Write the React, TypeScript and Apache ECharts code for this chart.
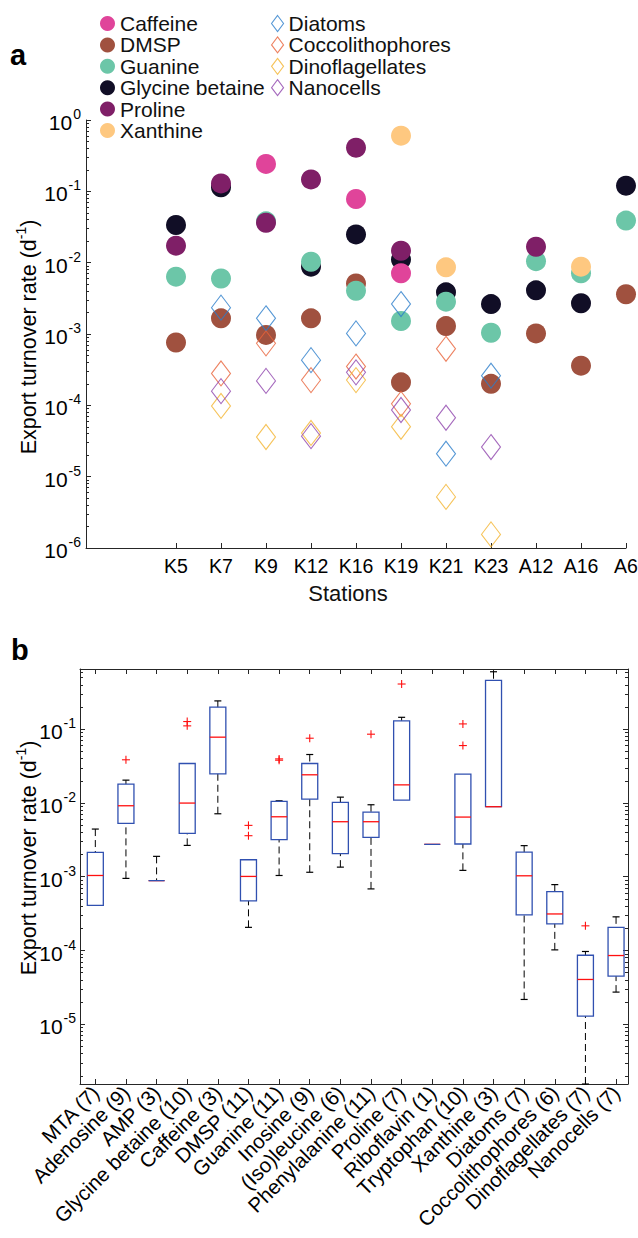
import React, { useEffect, useRef } from 'react';
import * as echarts from 'echarts';

// ---------- Panel a data ----------
const stations = ['K5', 'K7', 'K9', 'K12', 'K16', 'K19', 'K21', 'K23', 'A12', 'A16', 'A6'];
const caffeine = [null, null, 0.242, null, 0.078, 0.0071, null, null, null, null, null];
const dmsp = [7.6e-4, 1.66e-3, 9.7e-4, 1.66e-3, 5.1e-3, 2.1e-4, 1.29e-3, 2.0e-4, 1.02e-3, 3.6e-4, 3.61e-3];
const guanine = [6.36e-3, 6.0e-3, 0.038, 0.0103, 4.04e-3, 1.52e-3, 2.84e-3, 1.04e-3, 0.0105, 7.1e-3, 0.0389];
const glycineBetaine = [0.0337, 0.114, null, 8.8e-3, 0.0249, 0.0111, 3.84e-3, 2.63e-3, 4.1e-3, 2.7e-3, 0.12];
const proline = [0.0173, 0.129, 0.0363, 0.147, 0.409, 0.0147, null, null, 0.0167, null, null];
const xanthine = [null, null, null, null, null, 0.603, 8.6e-3, null, null, 8.8e-3, null];
const diatoms = [null, 2.34e-3, 1.66e-3, 4.3e-4, 1.02e-3, 2.63e-3, 2.1e-5, 2.6e-4, null, null, null];
const coccolithophores = [null, 2.8e-4, 7.4e-4, 2.26e-4, 3.5e-4, 1.05e-4, 6.2e-4, null, null, null, null];
const dinoflagellates = [null, 9.8e-5, 3.6e-5, 4.1e-5, 2.26e-4, 5.0e-5, 5.2e-6, 1.55e-6, null, null, null];
const nanocells = [null, 1.58e-4, 2.2e-4, 3.7e-5, 2.9e-4, 8.6e-5, 6.7e-5, 2.6e-5, null, null, null];

// ---------- Panel b data ----------
const boxNames = ['MTA', 'Adenosine', 'AMP', 'Glycine betaine', 'Caffeine', 'DMSP', 'Guanine', 'Inosine',
  '(Iso)leucine', 'Phenylalanine', 'Proline', 'Riboflavin', 'Tryptophan', 'Xanthine', 'Diatoms',
  'Coccolithophores', 'Dinoflagellates', 'Nanocells'];
const boxCounts = [7, 9, 3, 10, 3, 11, 11, 9, 6, 11, 7, 1, 10, 3, 7, 6, 7, 7];
const boxMin = [4.1e-4, 9.5e-4, 8.85e-4, 2.66e-3, 7.14e-3, 2.06e-4, 1.04e-3, 1.15e-3, 1.35e-3, 6.84e-4, 0.0109, 2.75e-3, 1.22e-3, 8.9e-3, 2.17e-5, 1.02e-4, 1.55e-6, 2.73e-5];
const boxQ1 = [4.1e-4, 5.28e-3, 8.85e-4, 3.87e-3, 0.0248, 4.7e-4, 3.18e-3, 0.0113, 2.06e-3, 3.41e-3, 0.0109, 2.75e-3, 2.78e-3, 8.9e-3, 3.04e-4, 2.3e-4, 1.29e-5, 4.49e-5];
const boxMedian = [1.04e-3, 9.17e-3, 8.85e-4, 9.97e-3, 0.078, 1.01e-3, 6.5e-3, 0.0241, 5.57e-3, 5.57e-3, 0.0176, 2.75e-3, 6.44e-3, 8.9e-3, 1.03e-3, 3.13e-4, 4.05e-5, 8.55e-5];
const boxQ3 = [2.14e-3, 0.018, 8.85e-4, 0.0343, 0.199, 1.7e-3, 0.0105, 0.0343, 0.0102, 7.5e-3, 0.13, 2.75e-3, 0.0246, 0.46, 2.16e-3, 6.28e-4, 8.63e-5, 2.06e-4];
const boxMax = [4.43e-3, 0.0204, 1.89e-3, 0.0343, 0.242, 1.7e-3, 0.0107, 0.0454, 0.012, 9.46e-3, 0.145, 2.75e-3, 0.0246, 0.601, 2.64e-3, 7.82e-4, 9.7e-5, 2.86e-4];
const boxOutliers = [[], [0.0385], [], [0.127, 0.111], [], [4.97e-3, 3.6e-3], [0.0396, 0.038], [0.0755], [], [0.0856], [0.41], [], [0.118, 0.06], [], [], [], [2.16e-4], []];

// ---------- styling ----------
const FONT = '"Liberation Sans", Arial, Helvetica, sans-serif';
const AX = '#262626';
const BOX_BLUE = '#3050B0';
const A_YMIN = 1e-6;
const A_YMAX = 1;
const B_YMIN = 1.55e-6;
const B_YMAX = 0.655;

const circleDefs = [
  { name: 'Glycine betaine', values: glycineBetaine, color: '#110E26' },
  { name: 'Caffeine', values: caffeine, color: '#E0449A' },
  { name: 'DMSP', values: dmsp, color: '#A0513F' },
  { name: 'Guanine', values: guanine, color: '#6CC6A8' },
  { name: 'Proline', values: proline, color: '#7F1F67' },
  { name: 'Xanthine', values: xanthine, color: '#FEC880' },
];
const diamondDefs = [
  { name: 'Diatoms', values: diatoms, color: '#2B7DCA' },
  { name: 'Coccolithophores', values: coccolithophores, color: '#E8633A' },
  { name: 'Dinoflagellates', values: dinoflagellates, color: '#F4B430' },
  { name: 'Nanocells', values: nanocells, color: '#8E44AD' },
];
const circleLegendOrder = ['Caffeine', 'DMSP', 'Guanine', 'Glycine betaine', 'Proline', 'Xanthine'];

function minorTicks(lo: number, hi: number) {
  const out: number[] = [];
  for (let n = lo; n < hi; n++) for (let k = 2; k <= 9; k++) out.push(n + Math.log10(k));
  return out;
}
function range(a: number, b: number) {
  const out: number[] = [];
  for (let i = a; i <= b; i++) out.push(i);
  return out;
}
function powLabel(v: number) {
  const e = Math.log10(v);
  const r = Math.round(e);
  if (Math.abs(e - r) > 1e-6) return '';
  return `{b|10}{s|${r}}`;
}
const powRich = {
  b: { fontSize: 21, color: '#000', fontFamily: FONT, lineHeight: 26, verticalAlign: 'bottom' },
  s: { fontSize: 14, color: '#000', fontFamily: FONT, lineHeight: 26, verticalAlign: 'top', padding: [0, 0, 0, 1] },
};

const lineStyle = { color: AX, width: 1 };

function toPoints(values: (number | null)[]) {
  const pts: number[][] = [];
  values.forEach((v, i) => { if (v != null) pts.push([i + 1, v]); });
  return pts;
}

function buildOption() {
  const series: any[] = [];
  circleDefs.forEach((d) => {
    series.push({
      name: d.name, type: 'scatter', xAxisIndex: 0, yAxisIndex: 0,
      symbol: 'circle', symbolSize: 20, data: toPoints(d.values),
      itemStyle: { color: d.color, opacity: 1 }, emphasis: { disabled: true }, silent: true,
    });
  });
  diamondDefs.forEach((d) => {
    series.push({
      name: d.name, type: 'scatter', xAxisIndex: 0, yAxisIndex: 0,
      symbol: 'diamond', symbolSize: [19, 25], data: toPoints(d.values),
      itemStyle: { color: 'transparent', borderColor: d.color, borderWidth: 1.1 },
      emphasis: { disabled: true }, silent: true,
    });
  });

  const boxData = boxNames.map((_, i) => [i + 1, boxMin[i], boxQ1[i], boxMedian[i], boxQ3[i], boxMax[i]]);
  series.push({
    name: 'box', type: 'custom', xAxisIndex: 1, yAxisIndex: 2, clip: false, silent: true,
    encode: { x: 0, y: [1, 2, 3, 4, 5] },
    data: boxData,
    renderItem: (params: any, api: any) => {
      const x = api.value(0);
      const c = (d: number) => api.coord([x, api.value(d)]);
      const px = c(1)[0];
      const yMin = c(1)[1];
      const yQ1 = c(2)[1];
      const yMed = c(3)[1];
      const yQ3 = c(4)[1];
      const yMax = c(5)[1];
      const hw = 8;
      const cw = 3.5;
      const children: any[] = [];
      const dash = { stroke: '#000', lineWidth: 1, lineDash: [7, 4], fill: null };
      const solid = { stroke: '#000', lineWidth: 1.2, fill: null };
      if (yMax < yQ3 - 0.5) {
        children.push({ type: 'line', shape: { x1: px, y1: yMax, x2: px, y2: yQ3 }, style: dash });
        children.push({ type: 'line', shape: { x1: px - cw, y1: yMax, x2: px + cw, y2: yMax }, style: solid });
      }
      if (yMin > yQ1 + 0.5) {
        children.push({ type: 'line', shape: { x1: px, y1: yMin, x2: px, y2: yQ1 }, style: dash });
        children.push({ type: 'line', shape: { x1: px - cw, y1: yMin, x2: px + cw, y2: yMin }, style: solid });
      }
      const flat = yQ1 - yQ3 < 0.5;
      const rect = {
        type: 'rect', shape: { x: px - hw, y: yQ3, width: 2 * hw, height: Math.max(yQ1 - yQ3, 0) },
        style: { fill: 'none', stroke: BOX_BLUE, lineWidth: 1.3 },
      };
      const med = {
        type: 'line', shape: { x1: px - hw, y1: yMed, x2: px + hw, y2: yMed },
        style: { stroke: '#FF1010', lineWidth: 1.3 },
      };
      if (flat) { children.push(med, rect); } else { children.push(rect, med); }
      return { type: 'group', children };
    },
  });

  const outData: number[][] = [];
  boxOutliers.forEach((arr, i) => arr.forEach((v) => outData.push([i + 1, v])));
  series.push({
    name: 'outliers', type: 'custom', xAxisIndex: 1, yAxisIndex: 2, clip: false, silent: true,
    encode: { x: 0, y: 1 },
    data: outData,
    renderItem: (params: any, api: any) => {
      const p = api.coord([api.value(0), api.value(1)]);
      const s = 4;
      const st = { stroke: '#FF1010', lineWidth: 1.1 };
      return {
        type: 'group', children: [
          { type: 'line', shape: { x1: p[0] - s, y1: p[1], x2: p[0] + s, y2: p[1] }, style: st },
          { type: 'line', shape: { x1: p[0], y1: p[1] - s, x2: p[0], y2: p[1] + s }, style: st },
        ],
      };
    },
  });

  const stationTicks = range(1, stations.length);
  const boxTicks = range(1, boxNames.length);

  const option: any = {
    animation: false,
    textStyle: { fontFamily: FONT },
    grid: [
      { left: 86, top: 120, width: 540, height: 428, outerBoundsMode: 'none', containLabel: false },
      { left: 80, top: 669, width: 548, height: 415, outerBoundsMode: 'none', containLabel: false },
    ],
    legend: [
      {
        orient: 'vertical', left: 100, top: 13, padding: 0, itemGap: 0.4, itemWidth: 15, itemHeight: 15,
        itemTextGap: 3, icon: 'circle', selectedMode: false,
        textStyle: { fontSize: 21, lineHeight: 20, color: '#111', fontFamily: FONT },
        data: circleLegendOrder,
      },
      {
        orient: 'vertical', left: 271, top: 13, padding: 0, itemGap: 0.4, itemWidth: 12, itemHeight: 16,
        itemTextGap: 7, icon: 'diamond', selectedMode: false,
        textStyle: { fontSize: 21, lineHeight: 20, color: '#111', fontFamily: FONT },
        data: diamondDefs.map((d) => ({
          name: d.name,
          itemStyle: { color: 'transparent', borderColor: d.color, borderWidth: 1.1 },
        })),
      },
    ],
    xAxis: [
      {
        gridIndex: 0, type: 'value', min: -1, max: 11, position: 'bottom',
        axisLine: { show: true, onZero: false, lineStyle },
        axisTick: { show: true, inside: true, length: 5, customValues: stationTicks, lineStyle },
        axisLabel: {
          customValues: stationTicks, fontSize: 19.5, color: '#000', margin: 8, fontFamily: FONT,
          formatter: (v: number) => stations[Math.round(v) - 1] ?? '',
        },
        splitLine: { show: false },
      },
      {
        gridIndex: 1, type: 'value', min: 0.5, max: 18.39, position: 'bottom',
        axisLine: { show: true, onZero: false, lineStyle },
        axisTick: { show: true, inside: true, length: 5, customValues: boxTicks, lineStyle },
        axisLabel: {
          customValues: boxTicks, fontSize: 20.5, color: '#000', margin: 5, rotate: 45, fontFamily: FONT,
          formatter: (v: number) => {
            const i = Math.round(v) - 1;
            return boxNames[i] != null ? `${boxNames[i]} (${boxCounts[i]})` : '';
          },
        },
        splitLine: { show: false },
      },
      {
        gridIndex: 1, type: 'value', min: 0.5, max: 18.39, position: 'top',
        axisLine: { show: true, onZero: false, lineStyle },
        axisTick: { show: true, inside: true, length: 5, customValues: boxTicks, lineStyle },
        axisLabel: { show: false },
        splitLine: { show: false },
      },
    ],
    yAxis: [
      {
        gridIndex: 0, type: 'log', logBase: 10, min: A_YMIN, max: A_YMAX, position: 'left',
        axisLine: { show: true, onZero: false, lineStyle },
        axisTick: { show: true, inside: true, length: 5, lineStyle },
        axisLabel: { formatter: powLabel, rich: powRich, margin: 5 },
        splitLine: { show: false },
      },
      {
        gridIndex: 0, type: 'value', min: -6, max: 0, position: 'left',
        axisLine: { show: false, onZero: false },
        axisTick: { show: true, inside: true, length: 3, customValues: minorTicks(-6, 0), lineStyle },
        axisLabel: { show: false },
        splitLine: { show: false },
      },
      {
        gridIndex: 1, type: 'log', logBase: 10, min: B_YMIN, max: B_YMAX, position: 'left',
        axisLine: { show: true, onZero: false, lineStyle },
        axisTick: { show: true, inside: true, length: 5, lineStyle },
        axisLabel: { formatter: powLabel, rich: powRich, margin: 4 },
        splitLine: { show: false },
      },
      {
        gridIndex: 1, type: 'log', logBase: 10, min: B_YMIN, max: B_YMAX, position: 'right',
        axisLine: { show: true, onZero: false, lineStyle },
        axisTick: { show: true, inside: true, length: 5, lineStyle },
        axisLabel: { show: false },
        splitLine: { show: false },
      },
      {
        gridIndex: 1, type: 'value', min: Math.log10(B_YMIN), max: Math.log10(B_YMAX), position: 'left',
        axisLine: { show: false, onZero: false },
        axisTick: { show: true, inside: true, length: 3, customValues: minorTicks(-6, 0), lineStyle },
        axisLabel: { show: false },
        splitLine: { show: false },
      },
      {
        gridIndex: 1, type: 'value', min: Math.log10(B_YMIN), max: Math.log10(B_YMAX), position: 'right',
        axisLine: { show: false, onZero: false },
        axisTick: { show: true, inside: true, length: 3, customValues: minorTicks(-6, 0), lineStyle },
        axisLabel: { show: false },
        splitLine: { show: false },
      },
    ],
    graphic: [
      { type: 'text', x: 10, y: 69, style: { text: 'a', fontSize: 29, fontWeight: 'bold', fontFamily: FONT, fill: '#000', align: 'left', verticalAlign: 'bottom' } },
      { type: 'text', x: 11, y: 664, style: { text: 'b', fontSize: 29, fontWeight: 'bold', fontFamily: FONT, fill: '#000', align: 'left', verticalAlign: 'bottom' } },
      {
        type: 'text', x: 27, y: 337, rotation: Math.PI / 2,
        style: {
          text: '{a|Export turnover rate (d}{s|-1}{a|)}', align: 'center', verticalAlign: 'middle',
          rich: {
            a: { fontSize: 21.5, fontFamily: FONT, fill: '#000', lineHeight: 26, verticalAlign: 'bottom' },
            s: { fontSize: 14, fontFamily: FONT, fill: '#000', lineHeight: 26, verticalAlign: 'top' },
          },
        },
      },
      {
        type: 'text', x: 27, y: 858, rotation: Math.PI / 2,
        style: {
          text: '{a|Export turnover rate (d}{s|-1}{a|)}', align: 'center', verticalAlign: 'middle',
          rich: {
            a: { fontSize: 21.5, fontFamily: FONT, fill: '#000', lineHeight: 26, verticalAlign: 'bottom' },
            s: { fontSize: 14, fontFamily: FONT, fill: '#000', lineHeight: 26, verticalAlign: 'top' },
          },
        },
      },
      { type: 'text', x: 348, y: 593, style: { text: 'Stations', fontSize: 22, fontFamily: FONT, fill: '#111', align: 'center', verticalAlign: 'middle' } },
    ],
    series,
  };
  return option;
}

export default function App() {
  const ref = useRef<HTMLDivElement>(null);
  useEffect(() => {
    document.body.style.margin = '0';
    const chart = echarts.init(ref.current!, null, { renderer: 'svg' });
    chart.setOption(buildOption());
    return () => chart.dispose();
  }, []);
  return <div ref={ref} style={{ width: 638, height: 1238 }} />;
}
